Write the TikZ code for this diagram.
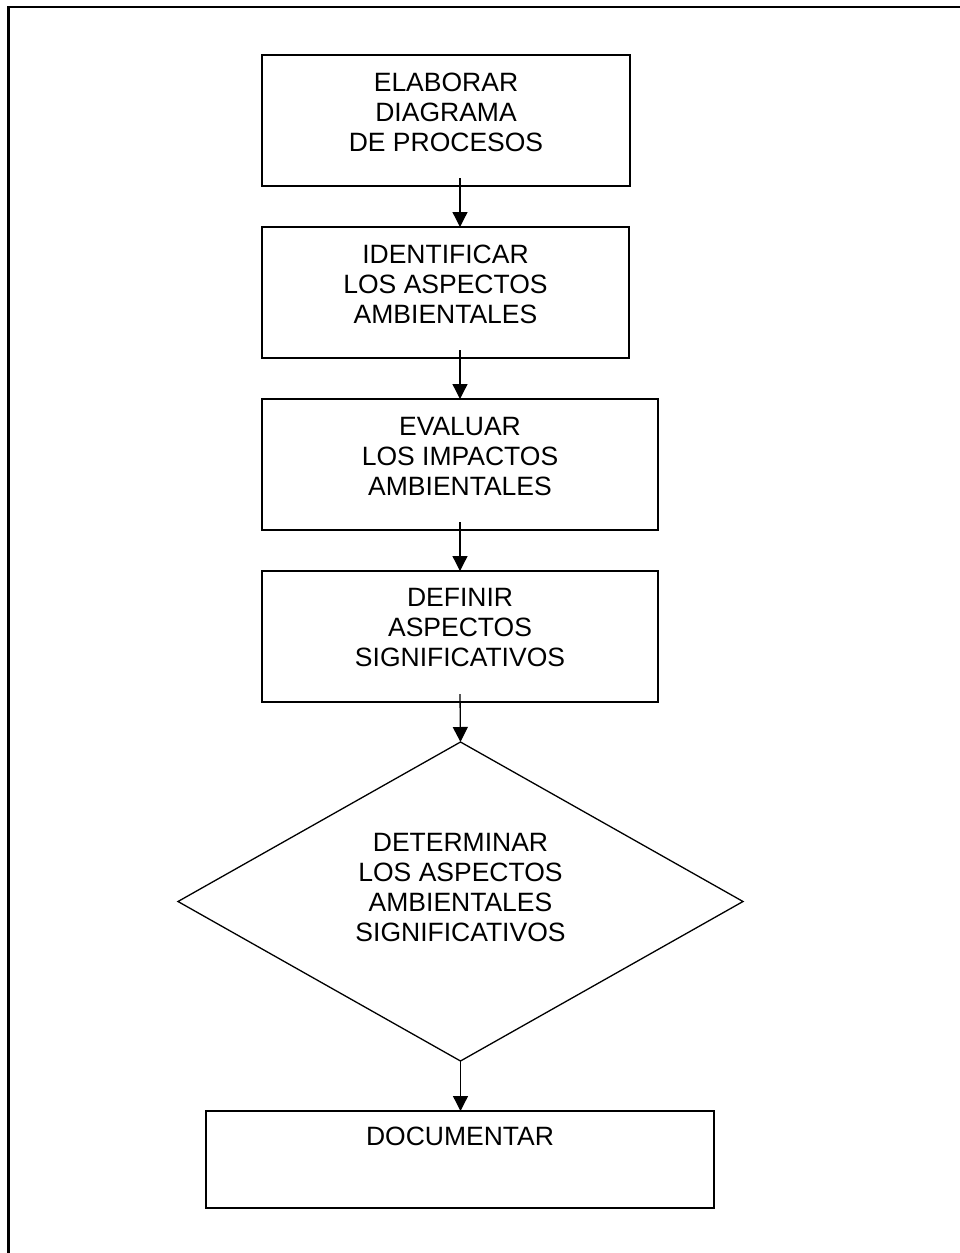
\documentclass[tikz,border=0pt]{standalone}
\usepackage{fontspec}
\setmainfont{Liberation Sans}
\usetikzlibrary{shapes.geometric,arrows.meta}
\begin{document}
\begin{tikzpicture}[x=1pt,y=-1pt,
  box/.style={draw=black,line width=2pt,rectangle,inner sep=0pt,outer sep=0pt,anchor=north west},
  lbl/.style={anchor=north,inner sep=0pt,outer sep=0pt,align=center,font=\fontsize{26.5}{30}\selectfont},
  arr/.style={line width=1.3pt,-{Triangle[length=15pt,width=15pt]}}]
\useasboundingbox (0,0) rectangle (960,1253);
% outer frame (left and top edges only visible)
\draw[line width=2.5pt,line join=miter] (8.5,1260) -- (8.5,7) -- (970,7);
\coordinate (ax) at (460,0);
% boxes
\node[box,minimum width=368pt,minimum height=131pt] (b1) at (262,55) {};
\node[box,minimum width=367pt,minimum height=131pt] (b2) at (262,227) {};
\node[box,minimum width=396pt,minimum height=131pt] (b3) at (262,399) {};
\node[box,minimum width=396pt,minimum height=131pt] (b4) at (262,571) {};
\node[draw=black,line width=1.3pt,diamond,inner sep=0pt,outer sep=0pt,minimum width=565pt,minimum height=319pt] (d) at (460.5,901.5) {};
\node[box,minimum width=508pt,minimum height=97pt] (b5) at (206,1111) {};
% labels
\node[lbl] (t1) at ([yshift=-17.7pt]b1.north) {ELABORAR\\DIAGRAMA\\DE PROCESOS};
\node[lbl] (t2) at ([yshift=-18pt]b2.north) {IDENTIFICAR\\LOS ASPECTOS\\AMBIENTALES};
\node[lbl] (t3) at ([yshift=-18pt]b3.north) {EVALUAR\\LOS IMPACTOS\\AMBIENTALES};
\node[lbl] (t4) at ([yshift=-17pt]b4.north) {DEFINIR\\ASPECTOS\\SIGNIFICATIVOS};
\node[lbl] (t6) at ([yshift=-91pt]d.north) {DETERMINAR\\LOS ASPECTOS\\AMBIENTALES\\SIGNIFICATIVOS};
\node[lbl] (t5) at ([yshift=-16pt]b5.north) {DOCUMENTAR};
% connectors
\draw[arr] ([yshift=8pt]b1.south -| ax) -- (b2.north -| ax);
\draw[arr] ([yshift=8pt]b2.south -| ax) -- (b3.north -| ax);
\draw[arr] ([yshift=8pt]b3.south -| ax) -- (b4.north -| ax);
\draw[arr] ([yshift=8pt]b4.south -| ax) -- (d.north);
\draw[arr] (d.south) -- (b5.north -| d.south);
\end{tikzpicture}
\end{document}
